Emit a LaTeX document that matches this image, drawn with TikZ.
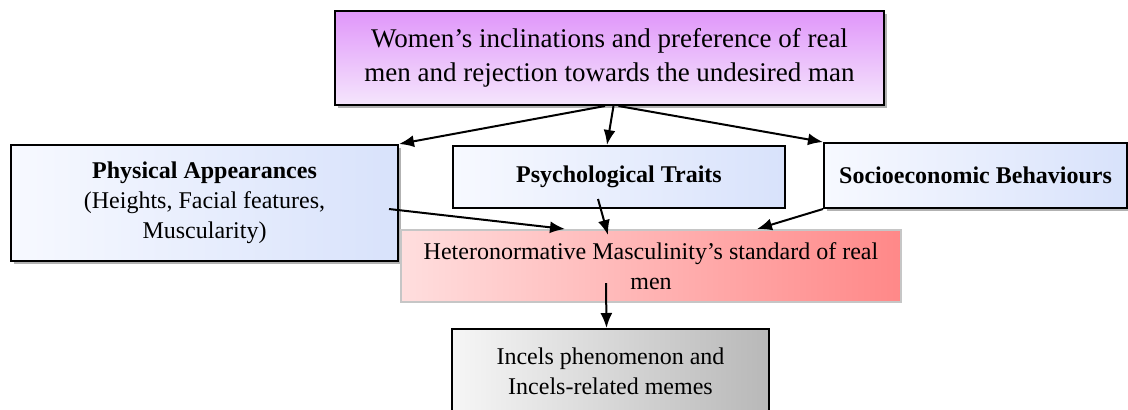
\documentclass[tikz,border=0pt]{standalone}
\usepackage{fontspec}
\setmainfont{Liberation Serif}
\usetikzlibrary{arrows.meta,shadows}

\definecolor{purptop}{RGB}{224,150,250}
\definecolor{purpbot}{RGB}{245,230,252}
\definecolor{blueleft}{RGB}{247,249,255}
\definecolor{blueright}{RGB}{216,226,251}
\definecolor{redleft}{RGB}{255,222,222}
\definecolor{redright}{RGB}{255,136,136}
\definecolor{greyleft}{RGB}{246,246,246}
\definecolor{greyright}{RGB}{184,184,184}

\begin{document}
\begin{tikzpicture}[x=0.5pt,y=-0.5pt,
        font=\fontsize{12}{15}\selectfont,
        box/.style={
            rectangle,
            draw=black, line width=1pt,
            align=center,
            inner sep=2pt},
        shade/.style={
            drop shadow={shadow xshift=1.5pt, shadow yshift=-1.5pt, fill=gray!60, opacity=1}},
        bluebox/.style={
            box,
            left color=blueleft, right color=blueright},
        arrow/.style={
            line width=1pt,
            -{Latex[length=7.5pt,width=6pt]}}
        ]

    \useasboundingbox (0,0) rectangle (1128,409);

    \node (women) [box, shade, top color=purptop, bottom color=purpbot,
        font=\fontsize{13.5}{17}\selectfont,
        minimum width=274.5pt, minimum height=47pt] at (609.5,58)
        {Women’s inclinations and preference of real\\men and rejection towards the undesired man};
    \node (phys) [bluebox, shade, minimum width=193.5pt, minimum height=58pt] at (204.5,203)
        {\textbf{Physical Appearances}\\(Heights, Facial features,\\Muscularity)};
    \node (psych) [bluebox, minimum width=166pt, minimum height=31pt] at (619,177)
        {\textbf{Psychological Traits}};
    \node (socio) [bluebox, shade, minimum width=151.5pt, minimum height=32.5pt] at (975.5,175.5)
        {\textbf{Socioeconomic Behaviours}};
    \node (hetero) [box, draw=gray!45, left color=redleft, right color=redright,
        minimum width=250pt, minimum height=36pt] at (651,266)
        {Heteronormative Masculinity’s standard of real\\men};
    \node (incels) [box, left color=greyleft, right color=greyright,
        minimum width=158.5pt, minimum height=42pt] at (610.5,371)
        {Incels phenomenon and\\Incels-related memes};

    \draw [arrow] ([xshift=-2.25pt]women.south) -- (phys.north east);
    \draw [arrow] ([xshift=2pt]women.south) -- ([xshift=-6pt]psych.north);
    \draw [arrow] ([xshift=4.5pt]women.south) -- (socio.north west);
    \draw [arrow] ([xshift=-5pt,yshift=-3pt]phys.east) -- ([xshift=-43pt]hetero.north);
    \draw [arrow] ([xshift=-10.5pt,yshift=5pt]psych.south) -- ([xshift=-21.5pt,yshift=-3pt]hetero.north);
    \draw [arrow] (socio.south west) -- ([xshift=53pt]hetero.north);
    \draw [arrow] ([xshift=-22.5pt,yshift=-8.5pt]hetero.center) -- ([xshift=-2pt]incels.north);

\end{tikzpicture}
\end{document}
